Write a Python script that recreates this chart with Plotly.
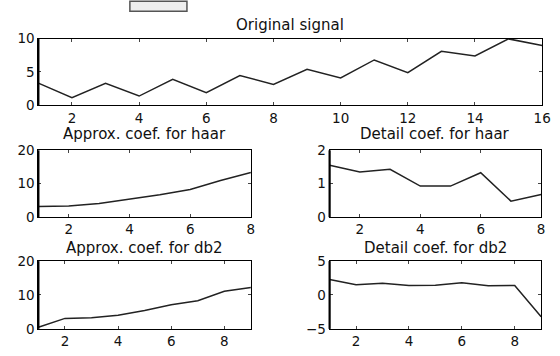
import plotly.graph_objects as go

# ---- data ----
orig_x = list(range(1, 17))
orig_y = [3.33, 1.17, 3.3, 1.4, 3.9, 1.9, 4.46, 3.15, 5.4, 4.1, 6.8, 4.9, 8.1, 7.4, 9.95, 8.97]

haar_x = list(range(1, 9))
haar_approx = [3.18, 3.32, 4.1, 5.38, 6.72, 8.27, 10.96, 13.38]
haar_detail = [1.55, 1.35, 1.43, 0.93, 0.93, 1.33, 0.48, 0.68]

db2_x = list(range(1, 10))
db2_approx = [0.5, 3.1, 3.3, 4.0, 5.4, 7.1, 8.3, 11.1, 12.2]
db2_detail = [2.3, 1.5, 1.75, 1.4, 1.45, 1.8, 1.35, 1.4, -3.2]

titles = ["Original signal", "Approx. coef. for haar", "Detail coef. for haar",
          "Approx. coef. for db2", "Detail coef. for db2"]

W, H = 560, 356

def px(x):
    return x / W

def py(y):
    return 1 - y / H

# panel pixel boxes: (left, right, top, bottom)
boxes = [(39, 551, 32, 102), (39, 255, 149, 219), (335, 550, 149, 219),
         (39, 255, 265, 336), (335, 550, 265, 336)]
title_offsets = [14, 17, 17, 14, 14]

series = [(orig_x, orig_y), (haar_x, haar_approx), (haar_x, haar_detail),
          (db2_x, db2_approx), (db2_x, db2_detail)]
xranges = [[1, 16], [1, 8], [1, 8], [1, 9], [1, 9]]
xticks = [[2, 4, 6, 8, 10, 12, 14, 16], [2, 4, 6, 8], [2, 4, 6, 8], [2, 4, 6, 8], [2, 4, 6, 8]]
yranges = [[0, 10], [0, 20], [0, 2], [0, 20], [-5, 5]]
yticks = [[0, 5, 10], [0, 10, 20], [0, 1, 2], [0, 10, 20], [-5, 0, 5]]
yticktext = [None, None, None, None, ["\u22125", "0", "5"]]

FAM = "DejaVu Sans, Verdana, sans-serif"
fig = go.Figure()
font = dict(family=FAM, size=13.5, color="#111")
layout = {}
shapes = []
annotations = []
for i, ((xs, ys), (l, r, t, b)) in enumerate(zip(series, boxes)):
    n = "" if i == 0 else str(i + 1)
    fig.add_trace(go.Scatter(x=xs, y=ys, mode="lines", xaxis="x" + n, yaxis="y" + n,
                             line=dict(color="#222", width=1.5), showlegend=False,
                             hoverinfo="skip"))
    common = dict(showgrid=False, zeroline=False, showline=True, linecolor="#000",
                  linewidth=1, mirror="allticks", ticks="inside", ticklen=3,
                  tickcolor="#444", tickwidth=1, tickfont=font)
    layout["xaxis" + n] = dict(domain=[px(l), px(r)], range=xranges[i], tickvals=xticks[i],
                               anchor="y" + n, **common)
    yd = dict(domain=[py(b), py(t)], range=yranges[i], tickvals=yticks[i],
              anchor="x" + n, **common)
    if yticktext[i]:
        yd["ticktext"] = yticktext[i]
    layout["yaxis" + n] = yd
    shapes.append(dict(type="line", xref="paper", yref="paper", x0=px(l), x1=px(l),
                       y0=py(b), y1=py(t), line=dict(color="#000", width=2.2)))
    annotations.append(dict(text=titles[i], xref="paper", yref="paper",
                            x=(px(l) + px(r)) / 2, y=py(t - title_offsets[i]),
                            xanchor="center", yanchor="middle", showarrow=False,
                            font=dict(family=FAM, size=15, color="#111")))

shapes.append(dict(type="rect", xref="paper", yref="paper", x0=px(132), x1=px(190),
                   y0=py(3.5), y1=1.02, line=dict(color="#555", width=1.5),
                   fillcolor="#eee"))

fig.update_layout(width=W, height=H, margin=dict(l=0, r=0, t=0, b=0),
                  paper_bgcolor="white", plot_bgcolor="white",
                  shapes=shapes, annotations=annotations, **layout)
fig.write_html("out.html")
